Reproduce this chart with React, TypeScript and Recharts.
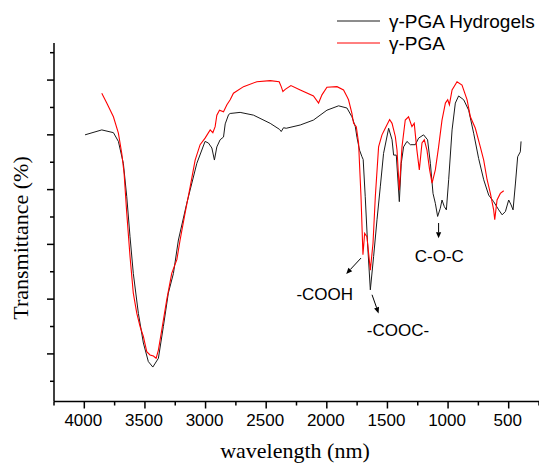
import React from 'react';
import { LineChart, Line, XAxis, YAxis, Legend, ReferenceLine, ReferenceDot } from 'recharts';

// wavenumber / transmittance readings for each spectrum
const hydrogelWn = [
  3994, 3856, 3760, 3719, 3678, 3650, 3623, 3596, 3554, 3513, 3472, 3435, 3389, 3348, 3307, 3265,
  3224, 3155, 3072, 3004, 2976, 2948, 2927, 2907, 2880, 2852, 2838, 2810, 2797, 2715, 2605, 2467,
  2390, 2376, 2357, 2335, 2219, 2110, 1999, 1903, 1834, 1793, 1765, 1751, 1730, 1710, 1700, 1683,
  1664, 1641, 1614, 1586, 1559, 1532, 1490, 1462, 1449, 1427, 1402, 1386, 1367, 1339, 1311, 1270,
  1243, 1202, 1169, 1146, 1124, 1105, 1086, 1064, 1050, 1031, 1014, 995, 967, 940, 913, 871, 830,
  789, 748, 706, 665, 624, 582, 554, 527, 500, 480, 464, 444, 426, 404, 398,
];
const hydrogelT = [
  55.0, 55.9, 55.4, 53.8, 49.8, 43.7, 36.4, 29.7, 22.4, 17.0, 13.6, 12.6, 14.2, 20.0, 26.1, 29.7,
  35.8, 42.5, 49.8, 53.8, 53.5, 52.6, 50.4, 52.8, 54.1, 54.6, 57.0, 58.7, 58.9, 59.1, 58.6, 57.1,
  56.0, 55.6, 56.3, 56.2, 56.8, 57.7, 59.5, 60.3, 59.9, 58.3, 56.5, 54.5, 52.2, 51.0, 50.5, 43.7,
  35.2, 26.7, 32.8, 39.5, 45.5, 51.6, 56.2, 54.1, 51.3, 51.3, 42.8, 49.8, 52.8, 53.8, 53.2, 53.2,
  54.4, 55.0, 54.1, 49.8, 44.3, 42.5, 40.1, 41.6, 43.1, 41.9, 41.3, 46.8, 55.9, 60.8, 62.1, 61.4, 59.5,
  55.3, 50.7, 46.8, 44.0, 42.8, 41.3, 40.4, 41.0, 43.1, 42.2, 41.3, 46.2, 51.0, 51.9, 53.8,
];

const pgaWn = [
  3856, 3815, 3760, 3719, 3691, 3672, 3650, 3623, 3596, 3567, 3540, 3513, 3485, 3458, 3430, 3408,
  3389, 3361, 3320, 3279, 3237, 3210, 3169, 3127, 3086, 3045, 3004, 2962, 2940, 2921, 2907, 2885,
  2852, 2824, 2797, 2770, 2687, 2577, 2467, 2393, 2376, 2362, 2343, 2296, 2219, 2110, 2068, 2040,
  1999, 1916, 1862, 1834, 1821, 1793, 1779, 1757, 1738, 1718, 1702, 1688, 1669, 1641, 1619, 1600,
  1573, 1545, 1518, 1482, 1462, 1435, 1421, 1402, 1380, 1353, 1326, 1298, 1279, 1257, 1237, 1215,
  1196, 1174, 1152, 1132, 1105, 1078, 1050, 1022, 1003, 989, 967, 926, 885, 843, 816, 775, 734,
  706, 678, 651, 624, 615, 596, 569, 541,
];
const pgaT = [
  62.6, 60.8, 58.3, 55.3, 51.6, 48.0, 40.7, 32.8, 26.1, 22.4, 20.0, 18.2, 15.4, 14.8, 14.6, 14.2,
  15.7, 19.4, 24.9, 29.7, 32.2, 35.8, 40.7, 45.5, 50.4, 53.2, 54.4, 55.9, 55.4, 56.5, 58.6, 59.5,
  59.2, 60.5, 61.4, 62.6, 63.8, 64.7, 64.9, 64.7, 63.8, 62.9, 63.3, 64.0, 63.2, 62.1, 60.8, 62.3,
  63.7, 63.8, 63.2, 62.0, 61.4, 58.9, 57.1, 56.5, 53.5, 43.7, 33.1, 37.0, 36.4, 30.3, 35.2, 43.7,
  52.8, 55.0, 56.2, 57.8, 57.1, 54.7, 52.2, 44.9, 52.8, 57.7, 58.3, 56.5, 57.1, 52.2, 48.6, 53.5,
  54.1, 52.2, 48.6, 46.2, 48.6, 52.8, 57.7, 60.8, 61.4, 60.5, 63.2, 64.7, 64.1, 61.4, 58.3, 56.2, 52.8,
  50.4, 46.8, 44.3, 41.3, 39.5, 43.1, 44.3, 44.8,
];

const seriesNames = ['γ-PGA Hydrogels', 'γ-PGA'];

const xTicks = [4250, 4000, 3750, 3500, 3250, 3000, 2750, 2500, 2250, 2000, 1750, 1500, 1250, 1000, 750, 500, 250];
const xLabelTicks = [4000, 3500, 3000, 2500, 2000, 1500, 1000, 500];
const yTicks = [10, 15, 20, 25, 30, 35, 40, 45, 50, 55, 60, 65, 70];
const yMajorTicks = [15, 25, 35, 45, 55, 65];

// band annotations: arrow start/end and label centre, in data units
const arrows = [
  { x1: 1718, y1: 32.5, x2: 1840, y2: 29.6 },
  { x1: 1627, y1: 25.8, x2: 1573, y2: 22.4 },
  { x1: 1078, y1: 38.9, x2: 1078, y2: 36.1 },
];
const notes = [
  { text: '-COOH', wn: 2017, t: 26.0 },
  { text: '-COOC-', wn: 1413, t: 19.4 },
  { text: 'C-O-C', wn: 1072, t: 32.9 },
];

const hydrogelData = hydrogelWn.map((wn, i) => ({ wn, t: hydrogelT[i] }));
const pgaData = pgaWn.map((wn, i) => ({ wn, t: pgaT[i] }));

const sans = '"Liberation Sans", Arial, sans-serif';
const serif = '"Liberation Serif", "Times New Roman", serif';

const XTick = (props: any) => {
  const { x, y, payload } = props;
  const major = xLabelTicks.includes(payload.value);
  return (
    <g>
      <line x1={x} x2={x} y1={y} y2={y + (major ? 7 : 4)} stroke="#000" strokeWidth={1.5} />
      {major && (
        <text x={x - 1} y={y + 24} textAnchor="middle" fontSize={17} fontFamily={sans} fill="#000">
          {payload.value}
        </text>
      )}
    </g>
  );
};

const YTick = (props: any) => {
  const { x, y, payload } = props;
  const major = yMajorTicks.includes(payload.value);
  return <line x1={x} x2={x - (major ? 7 : 4)} y1={y} y2={y} stroke="#000" strokeWidth={1.5} />;
};

const Arrow = (props: any) => {
  const { x1, y1, x2, y2 } = props;
  const a = Math.atan2(y2 - y1, x2 - x1);
  const len = 6;
  const w = 2.6;
  const bx = x2 - len * Math.cos(a);
  const by = y2 - len * Math.sin(a);
  const pts = [
    [x2, y2],
    [bx + w * Math.sin(a), by - w * Math.cos(a)],
    [bx - w * Math.sin(a), by + w * Math.cos(a)],
  ]
    .map((p) => p.join(','))
    .join(' ');
  return (
    <g>
      <line x1={x1} y1={y1} x2={bx} y2={by} stroke="#000" strokeWidth={1} />
      <polygon points={pts} fill="#000" />
    </g>
  );
};

const LegendBox = (props: any) => {
  const items = [...(props.payload || [])].sort(
    (a: any, b: any) => seriesNames.indexOf(a.value) - seriesNames.indexOf(b.value)
  );
  return (
    <svg width={210} height={60}>
      {items.map((item: any, i: number) => (
        <g key={item.value}>
          <line x1={7} x2={50} y1={21 + i * 22} y2={21 + i * 22} stroke={item.color} strokeWidth={1} />
          <text x={59} y={28 + i * 22} fontSize={19} fontFamily={sans} fill="#000">
            {item.value}
          </text>
        </g>
      ))}
    </svg>
  );
};

export default function App() {
  return (
    <div style={{ width: 539, height: 466, background: '#fff' }}>
      <style>{'body{margin:0}'}</style>
      <LineChart width={539} height={466} margin={{ top: 43, right: 0, bottom: 0.5, left: 0 }}>
        <XAxis
          type="number"
          dataKey="wn"
          domain={[250, 4250]}
          reversed
          ticks={xTicks}
          interval={0}
          height={64}
          tickSize={0}
          tickMargin={0}
          tickLine={false}
          tick={<XTick />}
          axisLine={{ stroke: '#000', strokeWidth: 1.5 }}
          allowDataOverflow
          label={{
            content: () => (
              <text x={295} y={458} textAnchor="middle" fontSize={22} fontFamily={serif} fill="#000">
                wavelength (nm)
              </text>
            ),
          }}
        />
        <YAxis
          type="number"
          dataKey="t"
          domain={[6.31, 71.77]}
          ticks={yTicks}
          interval={0}
          width={54}
          tickSize={0}
          tickMargin={0}
          tickLine={false}
          tick={<YTick />}
          axisLine={{ stroke: '#000', strokeWidth: 1.5 }}
          allowDataOverflow
          label={{
            content: () => (
              <text
                transform="translate(28,238) rotate(-90)"
                textAnchor="middle"
                fontSize={22}
                fontFamily={serif}
                fill="#000"
              >
                Transmittance (%)
              </text>
            ),
          }}
        />
        <Legend
          layout="vertical"
          align="center"
          verticalAlign="middle"
          content={<LegendBox />}
          wrapperStyle={{ position: 'absolute', left: 330, top: 0, width: 210, height: 60 }}
        />
        <Line
          name={seriesNames[0]}
          data={hydrogelData}
          dataKey="t"
          stroke="#1a1a1a"
          strokeWidth={1}
          dot={false}
          activeDot={false}
          type="linear"
          isAnimationActive={false}
        />
        <Line
          name={seriesNames[1]}
          data={pgaData}
          dataKey="t"
          stroke="#ff0000"
          strokeWidth={1.1}
          dot={false}
          activeDot={false}
          type="linear"
          isAnimationActive={false}
        />
        {arrows.map((a, i) => (
          <ReferenceLine
            key={'arrow-' + i}
            segment={[
              { x: a.x1, y: a.y1 },
              { x: a.x2, y: a.y2 },
            ]}
            shape={<Arrow />}
          />
        ))}
        {notes.map((n) => (
          <ReferenceDot
            key={n.text}
            x={n.wn}
            y={n.t}
            r={0}
            shape={(p: any) => (
              <text x={p.cx} y={p.cy + 6} textAnchor="middle" fontSize={17} fontFamily={sans} fill="#000">
                {n.text}
              </text>
            )}
          />
        ))}
      </LineChart>
    </div>
  );
}
